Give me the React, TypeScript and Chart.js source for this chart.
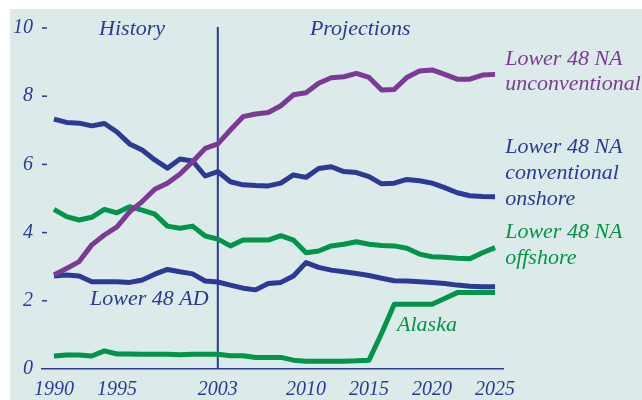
import React, { useEffect, useRef } from "react";
import { Chart, registerables } from "chart.js";

Chart.register(...registerables);

const years = [
  1990, 1991, 1992, 1993, 1994, 1995, 1996, 1997, 1998, 1999,
  2000, 2001, 2002, 2003, 2004, 2005, 2006, 2007, 2008, 2009,
  2010, 2011, 2012, 2013, 2014, 2015, 2016, 2017, 2018, 2019,
  2020, 2021, 2022, 2023, 2024, 2025,
];

const unconventional = [
  2.76, 2.95, 3.15, 3.64, 3.93, 4.17, 4.61, 4.91, 5.27, 5.45,
  5.72, 6.08, 6.47, 6.6, 7.01, 7.4, 7.48, 7.52, 7.72, 8.04,
  8.1, 8.38, 8.54, 8.57, 8.67, 8.55, 8.18, 8.2, 8.55, 8.74,
  8.77, 8.64, 8.5, 8.5, 8.62, 8.64,
];

const conventionalOnshore = [
  7.33, 7.23, 7.21, 7.13, 7.2, 6.95, 6.6, 6.42, 6.13, 5.89,
  6.16, 6.1, 5.66, 5.79, 5.49, 5.4, 5.38, 5.37, 5.45, 5.69,
  5.62, 5.88, 5.93, 5.79, 5.76, 5.64, 5.43, 5.45, 5.56, 5.52,
  5.45, 5.32, 5.17, 5.08, 5.06, 5.05,
];

const offshore = [
  4.68, 4.47, 4.37, 4.45, 4.68, 4.58, 4.76, 4.66, 4.54, 4.19,
  4.13, 4.19, 3.9, 3.81, 3.61, 3.78, 3.78, 3.78, 3.91, 3.78,
  3.41, 3.46, 3.61, 3.66, 3.73, 3.66, 3.62, 3.61, 3.54, 3.37,
  3.29, 3.28, 3.25, 3.23, 3.41, 3.56,
];

const lower48AD = [
  2.73, 2.76, 2.73, 2.56, 2.56, 2.56, 2.54, 2.61, 2.78, 2.92,
  2.85, 2.79, 2.58, 2.55, 2.46, 2.37, 2.32, 2.51, 2.54, 2.73,
  3.12, 2.98, 2.9, 2.85, 2.8, 2.74, 2.66, 2.59, 2.58, 2.56,
  2.54, 2.51, 2.46, 2.43, 2.41, 2.41,
];

const alaska = [
  0.38, 0.41, 0.41, 0.38, 0.53, 0.44, 0.44, 0.43, 0.43, 0.43,
  0.42, 0.43, 0.43, 0.43, 0.39, 0.39, 0.34, 0.34, 0.34, 0.26,
  0.23, 0.23, 0.23, 0.23, 0.24, 0.26, 1.05, 1.9, 1.9, 1.9,
  1.9, 2.07, 2.24, 2.24, 2.24, 2.24,
];

const xTickValues = [1990, 1995, 2003, 2010, 2015, 2020, 2025];
const yTickValues = [0, 2, 4, 6, 8, 10];
const dividerYear = 2003;

const BLUE = "#2b3a94";
const PURPLE = "#7b3a96";
const GREEN = "#009548";
const BG = "#dceaea";
const FONT = "Liberation Serif";

type Note = { lines: string[]; x: number; y: number; color: string; align: CanvasTextAlign; step: number };

const notes: Note[] = [
  { lines: ["History"], x: 1996.2, y: 9.97, color: BLUE, align: "center", step: 0 },
  { lines: ["Projections"], x: 2014.3, y: 9.97, color: BLUE, align: "center", step: 0 },
  { lines: ["Lower 48 NA", "unconventional"], x: 2025.8, y: 9.09, color: PURPLE, align: "left", step: 0.74 },
  { lines: ["Lower 48 NA", "conventional", "onshore"], x: 2025.8, y: 6.51, color: BLUE, align: "left", step: 0.76 },
  { lines: ["Lower 48 NA", "offshore"], x: 2025.8, y: 4.02, color: GREEN, align: "left", step: 0.77 },
  { lines: ["Lower 48 AD"], x: 1992.86, y: 2.04, color: BLUE, align: "left", step: 0 },
  { lines: ["Alaska"], x: 2017.22, y: 1.29, color: GREEN, align: "left", step: 0 },
];

const series = (vals: number[]) => years.map((yr, i) => ({ x: yr, y: vals[i] }));

export default function App() {
  const ref = useRef<HTMLCanvasElement | null>(null);

  useEffect(() => {
    const canvas = ref.current;
    if (!canvas) return;

    const decor = {
      id: "decor",
      beforeDraw(chart: any) {
        const { ctx, width, height } = chart;
        ctx.save();
        ctx.fillStyle = "#ffffff";
        ctx.fillRect(0, 0, width, height);
        ctx.fillStyle = BG;
        ctx.fillRect(10, 9, width - 10, height - 9);
        ctx.restore();
      },
      beforeDatasetsDraw(chart: any) {
        const { ctx, scales, chartArea } = chart;
        const x = scales.x.getPixelForValue(dividerYear);
        ctx.save();
        ctx.strokeStyle = BLUE;
        ctx.lineWidth = 2;
        ctx.beginPath();
        ctx.moveTo(x, chartArea.top - 1);
        ctx.lineTo(x, chartArea.bottom);
        ctx.stroke();
        // y tick dashes
        ctx.lineWidth = 1.5;
        for (const v of yTickValues) {
          if (v === 0) continue;
          const y = scales.y.getPixelForValue(v);
          ctx.beginPath();
          ctx.moveTo(chartArea.left, y);
          ctx.lineTo(chartArea.left + 5, y);
          ctx.stroke();
        }
        ctx.restore();
      },
      afterDatasetsDraw(chart: any) {
        const { ctx, scales } = chart;
        ctx.save();
        ctx.font = `italic 22px "${FONT}"`;
        ctx.textBaseline = "middle";
        for (const n of notes) {
          ctx.fillStyle = n.color;
          ctx.textAlign = n.align;
          const x = scales.x.getPixelForValue(n.x);
          n.lines.forEach((line, i) => {
            const y = scales.y.getPixelForValue(n.y - i * n.step);
            ctx.fillText(line, x, y);
          });
        }
        ctx.restore();
      },
    };

    const chart = new Chart(canvas, {
      type: "line",
      data: {
        datasets: [
          { label: "Lower 48 NA unconventional", data: series(unconventional), borderColor: PURPLE },
          { label: "Lower 48 NA offshore", data: series(offshore), borderColor: GREEN },
          { label: "Lower 48 NA conventional onshore", data: series(conventionalOnshore), borderColor: BLUE },
          { label: "Lower 48 AD", data: series(lower48AD), borderColor: BLUE },
          { label: "Alaska", data: series(alaska), borderColor: GREEN },
        ].map((d) => ({
          ...d,
          borderWidth: 5,
          pointRadius: 0,
          tension: 0,
          fill: false,
          borderJoinStyle: "round" as const,
          borderCapStyle: "butt" as const,
        })),
      },
      options: {
        responsive: false,
        animation: false,
        devicePixelRatio: 1,
        layout: { padding: { top: 28, right: 139, left: 0, bottom: 0 } },
        plugins: { legend: { display: false }, tooltip: { enabled: false } },
        scales: {
          x: {
            type: "linear",
            min: 1989.05,
            max: 2025.63,
            afterBuildTicks: (scale: any) => {
              scale.ticks = xTickValues.map((v) => ({ value: v }));
            },
            afterFit: (scale: any) => {
              scale.height = 31;
            },
            grid: { display: false, drawTicks: false },
            border: { display: true, color: BLUE, width: 1.5 },
            ticks: {
              color: BLUE,
              autoSkip: false,
              maxRotation: 0,
              padding: 9,
              font: { family: FONT, style: "italic", size: 20 },
              callback: (v: any) => String(v),
            },
          },
          y: {
            type: "linear",
            min: 0,
            max: 10,
            afterBuildTicks: (scale: any) => {
              scale.ticks = yTickValues.map((v) => ({ value: v }));
            },
            afterFit: (scale: any) => {
              scale.width = 42;
            },
            grid: { display: false, drawTicks: false },
            border: { display: false },
            ticks: {
              color: BLUE,
              padding: 9,
              font: { family: FONT, style: "italic", size: 20 },
              callback: (v: any) => String(v),
            },
          },
        },
      },
      plugins: [decor],
    });

    return () => chart.destroy();
  }, []);

  return (
    <div style={{ position: "fixed", left: 0, top: 0, width: 642, height: 400 }}>
      <canvas ref={ref} width={642} height={400} style={{ display: "block", width: 642, height: 400 }} />
    </div>
  );
}
